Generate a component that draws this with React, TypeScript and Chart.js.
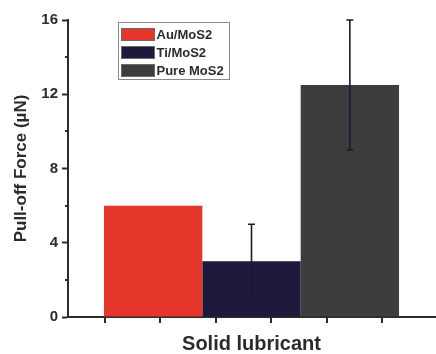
import { useEffect, useRef } from 'react';
import { Chart, registerables } from 'chart.js';

Chart.register(...registerables);

// Pull-off force per solid lubricant (µN), with standard deviation
const lubricants = ['Au/MoS2', 'Ti/MoS2', 'Pure MoS2'];
const pullOffForce = [6, 3, 12.5];
const pullOffError = [0, 2, 3.5];

// Axis ticks
const yMajorTicks = [0, 4, 8, 12, 16];
const yMinorTicks = [2, 6, 10, 14];
const xTickMarks = [0, 1, 2, 3, 4, 5];

const barColors = ['#e5362b', '#1d1a3b', '#3e3c3c'];

const FONT = '"Liberation Sans", Arial, Helvetica, sans-serif';
const INK = '#2b2b2b';
const WHISKER = '#1c1a30';

const errorBarPlugin = {
  id: 'errorBars',
  afterDatasetsDraw(chart: any) {
    const { ctx } = chart;
    const y = chart.scales.y;
    chart.data.datasets.forEach((ds: any, i: number) => {
      const meta = chart.getDatasetMeta(i);
      ds.data.forEach((v: number, j: number) => {
        const err = ds.errors?.[j];
        if (!err) return;
        const x = meta.data[j].x;
        const top = y.getPixelForValue(v + err);
        const bottom = y.getPixelForValue(v - err);
        ctx.save();
        ctx.strokeStyle = WHISKER;
        ctx.lineWidth = 1.6;
        ctx.beginPath();
        ctx.moveTo(x, top);
        ctx.lineTo(x, bottom);
        ctx.moveTo(x - 3.5, top);
        ctx.lineTo(x + 3.5, top);
        ctx.moveTo(x - 3.5, bottom);
        ctx.lineTo(x + 3.5, bottom);
        ctx.stroke();
        ctx.restore();
      });
    });
  },
};

const axisMarksPlugin = {
  id: 'axisMarks',
  afterDraw(chart: any) {
    const { ctx, chartArea } = chart;
    const xt = chart.scales.xt;
    const y = chart.scales.y;
    ctx.save();
    ctx.strokeStyle = INK;
    ctx.lineWidth = 2;
    ctx.beginPath();
    xTickMarks.forEach((t) => {
      const px = Math.round(xt.getPixelForValue(t));
      ctx.moveTo(px, chartArea.bottom);
      ctx.lineTo(px, chartArea.bottom + 6);
    });
    yMinorTicks.forEach((t) => {
      const py = Math.round(y.getPixelForValue(t));
      ctx.moveTo(chartArea.left, py);
      ctx.lineTo(chartArea.left - 3, py);
    });
    ctx.stroke();
    ctx.restore();
  },
};

const boxLegendPlugin = {
  id: 'boxLegend',
  afterDraw(chart: any) {
    const { ctx } = chart;
    const left = 118.5;
    const top = 22.5;
    const width = 111;
    const height = 57;
    ctx.save();
    ctx.fillStyle = '#ffffff';
    ctx.fillRect(left, top, width, height);
    ctx.strokeStyle = '#8a8a8a';
    ctx.lineWidth = 1;
    ctx.strokeRect(left, top, width, height);
    ctx.font = `bold 13px ${FONT}`;
    ctx.textBaseline = 'middle';
    ctx.textAlign = 'left';
    chart.data.datasets.forEach((ds: any, i: number) => {
      const rowY = top + 6 + i * 18;
      ctx.fillStyle = ds.backgroundColor;
      ctx.fillRect(left + 3, rowY, 33, 12);
      ctx.strokeStyle = '#6a6a6a';
      ctx.strokeRect(left + 3, rowY, 33, 12);
      ctx.fillStyle = INK;
      ctx.fillText(ds.label, left + 38, rowY + 6.5);
    });
    ctx.restore();
  },
};

export default function App() {
  const canvasRef = useRef<HTMLCanvasElement | null>(null);

  useEffect(() => {
    if (!canvasRef.current) return;
    const chart = new Chart(canvasRef.current, {
      type: 'bar',
      data: {
        labels: [''],
        datasets: lubricants.map((name, i) => ({
          label: name,
          data: [pullOffForce[i]],
          errors: [pullOffError[i]],
          backgroundColor: barColors[i],
          borderWidth: 0,
          categoryPercentage: 0.804,
          barPercentage: 1,
        })) as any,
      },
      options: {
        responsive: false,
        animation: false,
        events: [],
        layout: { padding: { top: 20, right: 1, left: 0, bottom: 0 } },
        plugins: {
          legend: { display: false },
          tooltip: { enabled: false },
        },
        scales: {
          x: {
            afterFit: (s: any) => {
              s.height = 37;
            },
            border: { display: true, color: INK, width: 2 },
            grid: { display: false },
            ticks: { display: false },
            title: {
              display: true,
              text: 'Solid lubricant',
              color: INK,
              font: { family: FONT, size: 20, weight: 'bold', lineHeight: 1 },
              padding: { top: 0, bottom: 0 },
            },
          },
          xt: {
            type: 'linear',
            position: 'bottom',
            axis: 'x',
            display: false,
            offset: false,
            min: -0.67,
            max: 5.96,
          },
          y: {
            min: 0,
            max: 16,
            afterFit: (s: any) => {
              s.width = 68;
            },
            border: { display: true, color: INK, width: 2 },
            grid: {
              drawOnChartArea: false,
              drawTicks: true,
              tickLength: 6,
              tickWidth: 2,
              tickColor: (c: any) =>
                yMajorTicks.includes(c.tick?.value) ? INK : 'rgba(0,0,0,0)',
            },
            ticks: {
              stepSize: 2,
              padding: 4,
              color: INK,
              font: { family: FONT, size: 15, weight: 'bold' },
              callback: (v: any) => (yMajorTicks.includes(v) ? String(v) : ''),
            },
            title: {
              display: true,
              text: 'Pull-off Force (µN)',
              color: INK,
              font: { family: FONT, size: 17, weight: 'bold' },
              padding: { top: 11, bottom: 0 },
            },
          },
        } as any,
      },
      plugins: [errorBarPlugin, axisMarksPlugin, boxLegendPlugin],
    });
    return () => chart.destroy();
  }, []);

  return (
    <div style={{ position: 'fixed', left: 0, top: 0, width: 436, height: 354, background: '#fff' }}>
      <canvas ref={canvasRef} width={436} height={354} />
    </div>
  );
}
